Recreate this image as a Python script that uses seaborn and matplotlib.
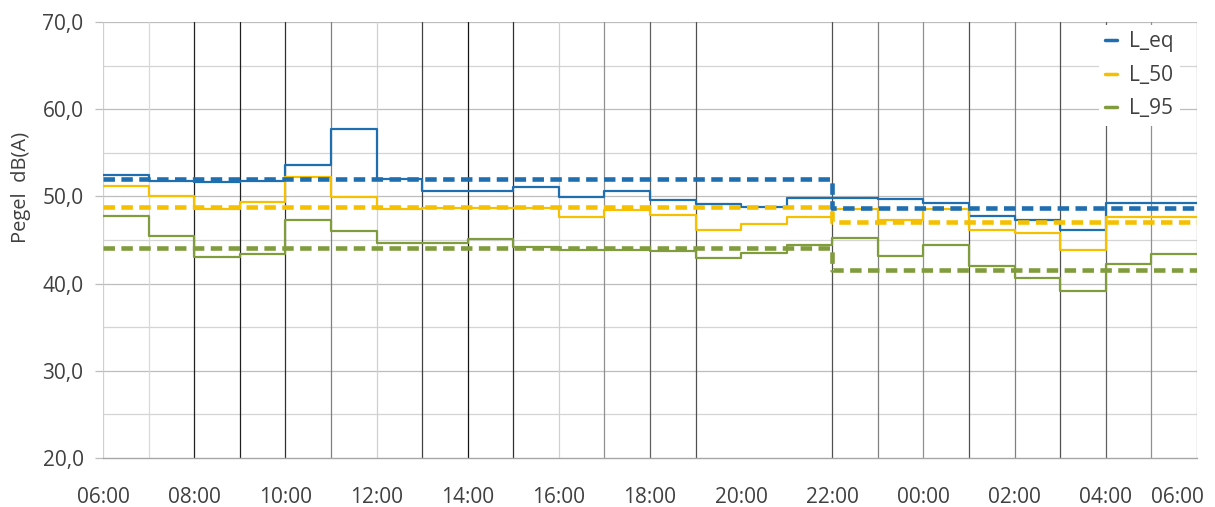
import numpy as np
import pandas as pd
import seaborn as sns
import matplotlib
matplotlib.use('Agg')
import matplotlib.pyplot as plt
from matplotlib.ticker import FuncFormatter, MultipleLocator
from matplotlib.transforms import ScaledTranslation

sns.set_style('white')
plt.rcParams['font.family'] = ['Open Sans', 'DejaVu Sans']

# Stunden ab 06:00 (0 = 06:00, 24 = 06:00 am Folgetag)
hours = list(range(25))
x_labels = ['06:00', '08:00', '10:00', '12:00', '14:00', '16:00', '18:00',
            '20:00', '22:00', '00:00', '02:00', '04:00', '06:00']

# Stundenwerte (06-07, 07-08, ... 05-06)
l_eq = [52.5, 51.8, 51.6, 51.8, 53.6, 57.7, 52.0, 50.6, 50.6, 51.1, 49.9, 50.6,
        49.6, 49.1, 48.8, 49.8, 49.8, 49.7, 49.3, 47.8, 47.3, 46.1, 49.2, 49.2]
l_50 = [51.2, 50.0, 48.5, 49.4, 52.2, 49.9, 48.6, 48.7, 48.7, 48.7, 47.6, 48.4,
        47.9, 46.2, 46.8, 47.6, 48.6, 47.3, 48.6, 46.1, 45.8, 43.8, 47.6, 47.6]
l_95 = [47.7, 45.5, 43.1, 43.4, 47.3, 46.0, 44.7, 44.6, 45.1, 44.2, 43.8, 43.9,
        43.7, 42.9, 43.5, 44.4, 45.2, 43.2, 44.4, 42.0, 40.6, 39.1, 42.3, 43.4]

# Mittelwerte Tag (06-22) / Nacht (22-06)
avg_hours = [0, 16, 24]
avg_eq = [52.0, 48.7, 48.7]
avg_50 = [48.8, 47.1, 47.1]
avg_95 = [44.1, 41.6, 41.6]

colors = {'L_eq': '#1f6eb0', 'L_50': '#f5c000', 'L_95': '#809c3c'}

# senkrechte Rasterlinien je Stunde (None = keine Linie)
vline_colors = ['#cfcfcf', '#d9d9d9', '#202020', '#202020', '#303030', '#808080',
                '#d0d0d0', '#404040', '#151515', '#303030', '#d0d0d0', '#909090',
                '#606060', '#505050', None, None, '#505050', '#808080', '#909090',
                '#505050', '#808080', '#505050', '#606060', '#909090', '#909090']

rows = []
for name, vals in [('L_eq', l_eq), ('L_50', l_50), ('L_95', l_95)]:
    vv = vals + [vals[-1]]
    for h, v in zip(hours, vv):
        rows.append({'Stunde': h, 'Pegel': v, 'Reihe': name})
df = pd.DataFrame(rows)

avg_rows = []
for name, vals in [('L_eq', avg_eq), ('L_50', avg_50), ('L_95', avg_95)]:
    for h, v in zip(avg_hours, vals):
        avg_rows.append({'Stunde': h, 'Pegel': v, 'Reihe': name})
df_avg = pd.DataFrame(avg_rows)

fig = plt.figure(figsize=(12.15, 5.07), dpi=100)
ax = fig.add_axes([103 / 1215, 1 - 458 / 507, 1094 / 1215, 436 / 507])

# Raster
for y in range(25, 70, 10):
    ax.axhline(y, color='#d4d4d4', lw=0.9, zorder=0)
for y in range(30, 71, 10):
    ax.axhline(y, color='#bdbdbd', lw=0.9, zorder=0)
for h, c in zip(hours, vline_colors):
    if c is not None:
        ax.axvline(h, color=c, lw=0.9, zorder=0.5)

sns.lineplot(data=df, x='Stunde', y='Pegel', hue='Reihe', palette=colors,
             drawstyle='steps-post', estimator=None, lw=1.6, ax=ax, zorder=2)
sns.lineplot(data=df_avg, x='Stunde', y='Pegel', hue='Reihe', palette=colors,
             drawstyle='steps-post', estimator=None, lw=3.3, ax=ax, zorder=3,
             legend=False, dashes=False)
for line in ax.lines[-3:]:
    line.set_dashes([2.5, 1.4])

ax.set_xlim(0, 24)
ax.set_ylim(20, 70)
ax.set_xticks(range(0, 25, 2))
ax.set_xticklabels(x_labels)
ax.yaxis.set_major_locator(MultipleLocator(10))
ax.yaxis.set_major_formatter(FuncFormatter(lambda v, p: f'{v:.1f}'.replace('.', ',')))
ax.tick_params(axis='x', length=0, pad=21, labelsize=15, labelcolor='#404040')
ax.tick_params(axis='y', length=6, width=0.9, color='#bdbdbd', pad=8,
               labelsize=15, labelcolor='#404040', left=True)

# letzte Beschriftung nach innen ruecken (wie im Original)
last = ax.get_xticklabels()[-1]
last.set_transform(last.get_transform() + ScaledTranslation(-0.2, 0, fig.dpi_scale_trans))

for s in ['top', 'right', 'left']:
    ax.spines[s].set_visible(False)
ax.spines['bottom'].set_color('#a6a6a6')
ax.spines['bottom'].set_linewidth(1.0)

ax.set_xlabel('')
ax.set_ylabel('Pegel  dB(A)', fontsize=14.5, color='#404040')
ax.yaxis.set_label_coords(-0.066, 0.62)

leg = ax.legend(loc='upper right', bbox_to_anchor=((1180 - 103) / 1094, 0.993),
                borderaxespad=0, frameon=True, fontsize=15, handlelength=0.55,
                handletextpad=0.6, labelspacing=0.6, borderpad=0.3)
leg.get_frame().set_facecolor('white')
leg.get_frame().set_edgecolor('none')
leg.get_frame().set_alpha(1)
leg.set_zorder(5)
for t in leg.get_texts():
    t.set_color('#404040')
for lh in leg.get_lines():
    lh.set_linewidth(2.5)

plt.savefig('out.png', dpi=100)
